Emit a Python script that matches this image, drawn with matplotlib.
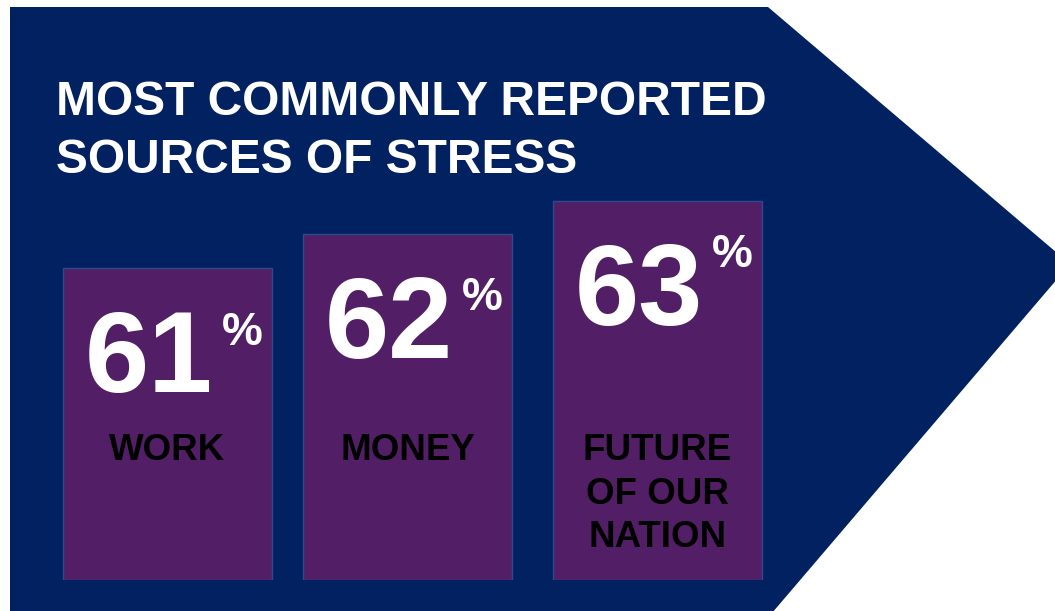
import matplotlib
matplotlib.use("Agg")
import matplotlib.pyplot as plt
from matplotlib.patches import Polygon

# ---- data ----
categories = ["WORK", "MONEY", "FUTURE\nOF OUR\nNATION"]
values = [61, 62, 63]
title = "MOST COMMONLY REPORTED\nSOURCES OF STRESS"

# ---- style / layout ----
W, H, DPI = 1055, 611, 100
NAVY = "#012160"
PURPLE = "#521E65"
EDGE = "#2C4A8C"
FONT = "Liberation Sans"

bar_left = [63, 303, 553]      # px from left edge of figure
bar_width = 209                # px
baseline_px = 580              # px from top where bars start
pct_drop = [77, 76, 66]        # px from bar top to baseline of the "%" sign

fig = plt.figure(figsize=(W / DPI, H / DPI), dpi=DPI)
fig.patch.set_facecolor("white")

# arrow-shaped background panel in figure pixel space
bg = fig.add_axes([0, 0, 1, 1])
bg.set_xlim(0, W)
bg.set_ylim(H, 0)
bg.axis("off")
arrow = Polygon([(10, 7), (768, 7), (1070, 264), (772, 613), (10, 613)],
                closed=True, facecolor=NAVY, edgecolor="none")
bg.add_patch(arrow)

bg.text(56, 80, title, color="white", fontsize=34.5, fontweight="bold",
        family=FONT, va="top", ha="left", linespacing=1.37)

# bar axes: x in pixels, y in value units (value scale offset from zero)
y0_val, y1_val = 51.73, 68.96
ax = fig.add_axes([0, (H - baseline_px) / H, 1, baseline_px / H])
ax.set_xlim(0, W)
ax.set_ylim(y0_val, y1_val)
ax.axis("off")
ax.patch.set_alpha(0)

ax.bar(bar_left, [v - y0_val for v in values], width=bar_width,
       bottom=y0_val, align="edge", color=PURPLE, edgecolor=EDGE,
       linewidth=1.0)

for left, v, pd in zip(bar_left, values, pct_drop):
    # big number, baseline ~124 px below the bar top
    ax.annotate(f"{v}", xy=(left + 150, v), xytext=(0, -124),
                textcoords="offset pixels", ha="right", va="baseline",
                color="white", fontsize=83, fontweight="bold", family=FONT)
    ax.annotate("%", xy=(left + 159, v), xytext=(0, -pd),
                textcoords="offset pixels", ha="left", va="baseline",
                color="white", fontsize=33, fontweight="bold", family=FONT)

# category labels, all starting at the same height, drawn above the bars
for left, cat in zip(bar_left, categories):
    fig.text(left + bar_width / 2, 433, cat, transform=bg.transData,
             color="black", fontsize=26.5, fontweight="bold", family=FONT,
             ha="center", va="top", linespacing=1.32,
             multialignment="center", zorder=5)

fig.savefig("out.png", dpi=DPI, facecolor=fig.get_facecolor())
